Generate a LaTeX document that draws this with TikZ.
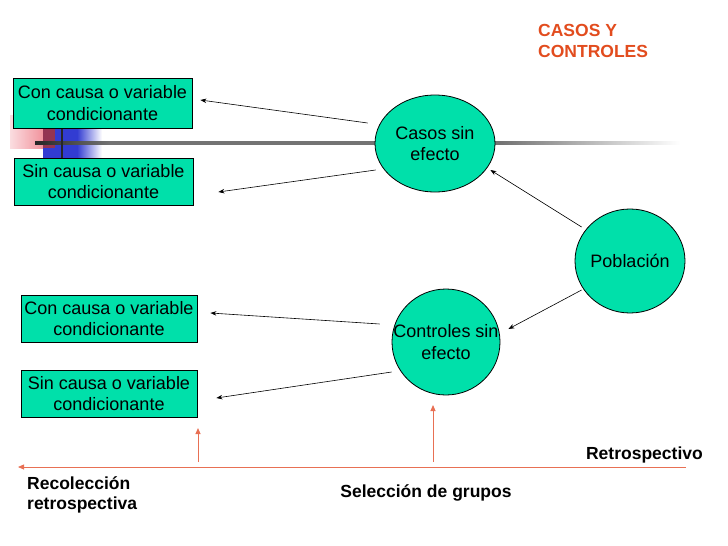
\documentclass[tikz,border=0pt]{standalone}
\usepackage{fontspec}
\setmainfont{Liberation Sans}
\usetikzlibrary{shapes.geometric,arrows.meta}
\definecolor{mint}{RGB}{0,224,170}
\definecolor{titleorange}{RGB}{226,76,30}
\definecolor{lineorange}{RGB}{232,112,84}
\definecolor{pinkdeco}{RGB}{238,120,132}
\definecolor{bluedeco}{RGB}{50,60,210}
\tikzset{
  boxnode/.style={draw=black, fill=mint, line width=0.8pt, inner sep=0pt, align=center,
    font=\fontsize{18}{21.5}\selectfont},
  ellnode/.style={ellipse, draw=black, fill=mint, line width=0.8pt, inner sep=0pt, align=center,
    font=\fontsize{18}{21.5}\selectfont},
  arr/.style={-{Stealth[length=6pt,width=4.5pt]}, line width=0.6pt, black},
  oarr/.style={-{Triangle[length=6pt,width=5pt]}, line width=1pt, lineorange},
  lbl/.style={font=\fontsize{17.5}{20.5}\selectfont\bfseries, inner sep=0pt, align=left},
}
\begin{document}
\begin{tikzpicture}[x=1pt,y=-1pt]
\useasboundingbox (0,0) rectangle (728,546);
% template decoration
\shade[left color=pinkdeco!25, right color=pinkdeco] (10,115) rectangle (55,148);
\fill[bluedeco] (43,128) rectangle (77,158);
\shade[left color=bluedeco, right color=white] (77,128) rectangle (102,158);
\fill[red!60!black!80, opacity=0.8] (43,128) rectangle (55,148);
\shade[left color=black!85, right color=black!55] (35,141.5) rectangle (110,144.5);
\shade[left color=black!55, right color=black!55] (110,141.5) rectangle (500,144.5);
\shade[left color=black!55, right color=white] (500,141.5) rectangle (680,144.5);
\draw[line width=2pt, black!85] (62,128) -- (62,158);
% boxes
\node[boxnode, minimum width=179pt, minimum height=50pt] (b1) at (102.5,103) {Con causa o variable\\condicionante};
\node[boxnode, minimum width=179pt, minimum height=47pt] (b2) at (103.5,181.5) {Sin causa o variable\\condicionante};
\node[boxnode, minimum width=176pt, minimum height=47pt] (b3) at (109,318.5) {Con causa o variable\\condicionante};
\node[boxnode, minimum width=176pt, minimum height=47pt] (b4) at (109,393.5) {Sin causa o variable\\condicionante};
% ellipses
\node[ellnode, minimum width=120pt, minimum height=97pt] (casos) at (435,143.5) {\makebox[40pt][c]{Casos sin}\\efecto};
\node[ellnode, minimum width=108pt, minimum height=106pt] (ctrl) at (446,342) {\makebox[40pt][c]{Controles sin}\\efecto};
\node[ellnode, minimum width=110pt, minimum height=104pt] (pob) at (630,261) {\makebox[40pt][c]{Población}};
% arrows
\draw[arr] ([shift={(-7,-20.5)}]casos.west) -- ([shift={(8,-3)}]b1.east);
\draw[arr] ([shift={(1,26.5)}]casos.west) -- ([shift={(25,10.5)}]b2.east);
\draw[arr] ([shift={(-12,-18)}]ctrl.west) -- ([shift={(13,-5.5)}]b3.east);
\draw[arr] ([shift={(0,30)}]ctrl.west) -- ([shift={(19,4.5)}]b4.east);
\draw[arr] ([shift={(7,-34)}]pob.west) -- ([shift={(-5,26.5)}]casos.east);
\draw[arr] ([shift={(7,29)}]pob.west) -- ([shift={(8,-13)}]ctrl.east);
% timeline
\coordinate (tr) at (686,467);
\coordinate (tl) at (18,467);
\coordinate (a1s) at (198,462);
\coordinate (a1e) at (198,428);
\coordinate (a2s) at (433,462);
\coordinate (a2e) at (433,405);
\draw[oarr, line width=0.8pt] (tr) -- (tl);
\draw[oarr] (a1s) -- (a1e);
\draw[oarr] (a2s) -- (a2e);
% labels
\node[lbl, text=titleorange, anchor=north west] (title) at (538,24.5) {CASOS Y\\CONTROLES};
\node[lbl, anchor=base east] (retro) at (703,459) {Retrospectivo};
\node[lbl, anchor=north west] (recol) at (27,476) {Recolección\\retrospectiva};
\node[lbl, anchor=base] (selec) at (426,497) {Selección de grupos};
\end{tikzpicture}
\end{document}
